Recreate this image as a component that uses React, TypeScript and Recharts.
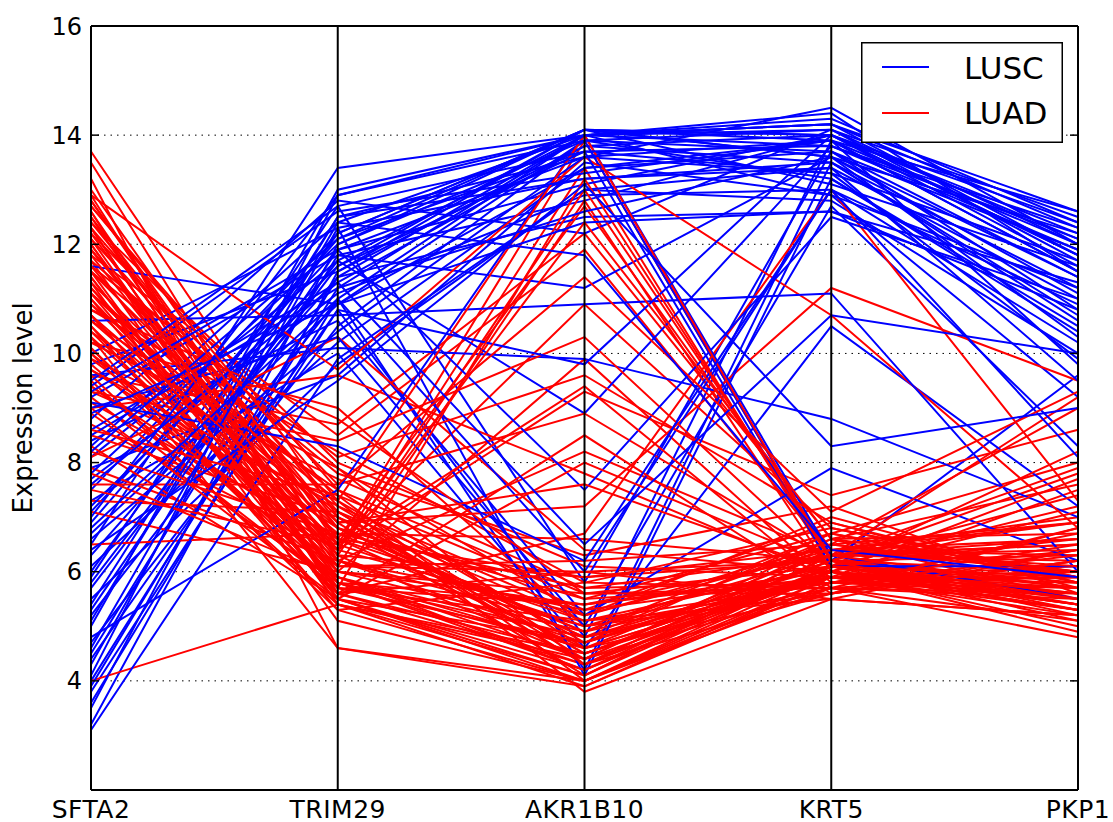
import React from 'react';
import { LineChart, Line, XAxis, YAxis, CartesianGrid, ReferenceLine, Legend } from 'recharts';

const FONT = "'DejaVu Sans', sans-serif";

const genes = ['SFTA2', 'TRIM29', 'AKR1B10', 'KRT5', 'PKP1'];
const geneIndex = [0, 1, 2, 3, 4];
const yTicks = [4, 6, 8, 10, 12, 14, 16];
const yDomain = [2, 16];
const classNames = ['LUSC', 'LUAD'];
const classColors = ['#0000ff', '#ff0000'];

// LUSC samples (blue)
const luscSFTA2 = [3.2,3.5,3.8,4.0,4.3,4.5,4.7,5.0,5.2,5.4, 5.5,5.7,5.9,6.1,6.3,6.5,6.7,6.9,7.1,7.3, 7.5,7.7,7.9,8.1,8.3,8.4,8.6,8.8,9.0,9.2, 9.4,9.6,9.8,10.0,10.6,11.6,3.1,3.6,4.1,4.8, 5.3,6.0,6.6,7.2,7.8,8.5,9.1,9.5,3.9,4.4, 5.1,5.8,6.4,7.0,7.6,8.2,8.9,9.3,4.6,6.8];
const luscTRIM29 = [11.5,12.0,10.8,11.2,12.3,11.8,10.5,13.0,11.0,12.5, 9.8,11.6,12.7,10.2,11.4,13.4,10.9,12.1,11.9,10.0, 12.2,11.1,9.6,11.7,12.4,10.6,11.3,12.8,10.3,11.8, 12.6,10.1,11.5,12.3,10.7,10.9,9.9,11.0,12.9,7.5, 11.9,12.2,10.4,11.6,12.0,11.2,8.3,12.7,11.4,10.8, 12.5,11.7,9.5,12.9,11.3,12.1,10.9,11.9,12.4,11.0];
const luscAKR1B10 = [13.8,14.1,4.8,14.0,13.2,12.8,13.9,14.0,4.2,13.6, 13.0,14.1,5.8,13.4,12.5,14.0,13.9,13.7,13.1,4.6, 14.1,12.9,13.5,8.9,14.0,5.2,13.8,12.2,5.0,11.2, 13.3,9.9,14.1,4.1,10.9,13.4,13.0,6.0,14.0,14.0, 7.5,14.1,13.6,13.7,13.9,12.6,6.2,13.7,14.0,9.8, 13.2,14.0,13.1,13.9,6.5,14.1,12.4,13.6,11.8,14.0];
const luscKRT5 = [14.0,13.6,13.9,14.2,13.4,14.0,13.2,13.8,13.5,14.5, 12.8,13.1,13.7,13.9,12.6,14.1,6.2,13.3,14.0,10.5, 13.6,13.0,12.9,13.8,14.2,7.9,13.5,14.1,12.7,13.6, 13.9,8.8,14.0,13.2,11.1,13.7,13.4,13.0,14.3,6.3, 12.5,13.9,13.3,6.1,14.1,13.6,13.0,13.8,12.9,14.0, 13.5,14.2,8.3,13.7,10.7,14.0,12.6,13.9,6.4,14.4];
const luscPKP1 = [11.8,12.2,11.5,12.6,11.0,12.4,10.5,11.9,11.2,12.0, 10.0,11.6,10.8,9.8,11.3,12.5,9.6,11.7,12.1,7.2, 11.4,10.9,9.2,12.3,11.8,6.2,10.6,12.0,8.3,11.1, 11.5,7.0,12.2,10.4,6.0,11.9,9.5,10.2,12.4,5.5, 11.0,12.6,9.9,6.1,11.7,10.3,8.1,12.1,11.2,11.6, 10.7,12.3,9.0,11.4,10.0,11.8,10.8,12.0,5.9,11.5];

// LUAD samples (red)
const luadSFTA2 = [13.7,13.5,12.9,12.8,12.7,12.6,12.5,12.4,12.3,12.2, 12.1,12.0,11.9,11.8,11.7,11.6,11.5,11.4,11.3,11.2, 11.1,11.0,10.9,10.8,10.7,10.6,10.5,10.4,10.3,10.2, 10.1,10.0,9.9,9.8,9.7,9.6,9.5,9.4,9.3,9.2, 9.1,9.0,8.9,8.7,8.5,8.3,8.1,7.9,7.6,7.3, 7.1,6.5,4.0,13.2,12.9,12.4,12.0,11.7,11.3,11.0, 10.6,10.3,9.9,9.6,9.3,12.6,12.3,12.1,11.9,11.6, 11.4,11.2,10.9,10.7,10.5,10.2,10.0,12.8,12.5,12.2, 11.8,11.5,11.1,10.8,10.4,10.1,9.7,9.4,9.0,8.6, 8.2,7.8,7.5,13.0,12.7,12.3,11.9,11.5,11.1,10.7];
const luadTRIM29 = [7.0,6.2,5.8,6.5,7.5,5.5,6.8,8.0,5.6,6.1, 7.2,5.9,6.6,8.5,5.4,6.3,7.8,5.7,6.9,6.0, 7.4,5.5,6.4,8.2,5.8,6.7,5.3,7.1,6.2,9.0, 5.6,6.5,7.7,5.9,6.8,8.7,5.4,6.1,7.3,5.7, 6.6,9.6,5.8,6.4,7.0,5.5,10.3,6.2,7.6,7.1, 6.0,6.7,5.4,4.6,9.7,6.9,5.6,7.9,5.1,6.3, 7.5,4.6,6.6,5.3,8.4,6.0,7.1,5.7,6.8,8.1, 5.5,6.5,7.3,5.9,6.1,7.9,5.6,6.3,5.8,7.6, 6.2,5.4,6.9,8.8,6.0,5.7,7.2,6.4,5.5,7.4, 6.7,5.9,6.5,6.6,7.3,5.6,6.4,7.0,5.8,6.8];
const luadAKR1B10 = [4.5,5.0,4.2,13.9,5.6,4.0,4.8,6.1,4.3,12.8, 5.3,4.6,5.9,11.9,3.9,4.4,6.3,5.1,4.1,9.9, 5.5,4.7,13.4,5.8,4.3,6.6,4.0,5.2,8.2,5.0, 4.5,10.9,5.7,4.2,4.9,12.2,4.4,6.0,3.8,5.4, 4.6,7.8,4.8,9.3,5.1,4.1,6.4,4.7,8.9,4.3, 5.6,4.9,4.5,4.0,13.6,7.2,6.7,5.2,4.0,13.0, 4.6,3.9,12.7,5.8,10.3,5.4,4.4,4.7,5.5,9.6, 4.2,5.0,14.0,4.8,6.2,4.3,8.5,5.9,4.6,11.4, 5.3,4.1,7.6,5.6,4.9,13.2,4.5,5.2,8.0,4.0, 5.7,4.4,9.4,5.1,4.7,6.0,12.4,4.3,5.4,4.8];
const luadKRT5 = [6.0,5.8,6.3,6.2,5.7,6.1,6.6,5.9,6.4,6.0, 6.9,5.6,6.2,6.3,5.9,6.5,7.2,5.5,6.1,5.8, 6.7,6.0,6.1,5.7,6.4,6.2,5.9,7.0,6.3,5.6, 6.0,6.8,5.8,6.1,6.5,6.6,5.7,6.2,5.5,6.0, 6.4,5.9,6.1,7.4,5.8,6.3,6.0,6.7,6.2,5.6, 6.1,5.9,6.2,6.0,10.7,11.2,13.0,6.5,5.7,6.3, 6.0,5.8,6.4,6.8,6.1,5.9,6.6,6.2,5.8,6.9, 6.0,6.3,6.2,5.7,6.5,6.1,5.6,6.4,6.0,7.1, 5.9,6.3,6.0,5.6,6.7,6.2,5.9,6.4,6.1,5.8, 6.3,6.0,5.7,6.1,6.2,5.5,6.6,6.0,6.3,5.9];
const luadPKP1 = [5.6,5.9,6.5,5.3,6.0,7.2,5.5,5.8,6.3,5.0, 5.7,6.8,5.4,6.2,7.5,6.0,5.6,5.2,6.6,5.9, 8.0,5.3,6.1,5.5,7.0,5.7,6.4,5.8,9.2,6.2, 5.4,5.9,6.7,5.1,6.0,7.6,5.6,6.3,5.2,4.9, 6.9,6.1,5.5,8.6,5.7,6.5,5.3,5.9,7.8,6.2, 5.6,6.0,5.8,5.4,6.8,9.5,7.3,9.0,5.1,6.4, 7.7,5.6,6.6,5.9,8.2,5.2,6.7,5.5,6.3,5.8, 7.1,5.7,6.0,4.8,6.9,5.6,6.4,6.1,5.4,9.3, 5.9,6.6,5.3,6.2,5.8,7.4,5.7,6.0,5.4,6.5, 7.9,5.5,6.8,5.9,5.2,6.4,6.0,5.7,6.9,5.3];

const luscByGene = [luscSFTA2, luscTRIM29, luscAKR1B10, luscKRT5, luscPKP1];
const luadByGene = [luadSFTA2, luadTRIM29, luadAKR1B10, luadKRT5, luadPKP1];

const data = genes.map((g, gi) => {
  const row: Record<string, number | string> = { idx: geneIndex[gi], gene: g };
  luscByGene[gi].forEach((v, i) => { row[`c${i}`] = v; });
  luadByGene[gi].forEach((v, j) => { row[`d${j}`] = v; });
  return row;
});

type Series = { key: string; color: string; pos: number };
const series: Series[] = (() => {
  const items: Series[] = [];
  luscSFTA2.forEach((_, i) => items.push({ key: `c${i}`, color: classColors[0], pos: (i + 0.5) / luscSFTA2.length }));
  luadSFTA2.forEach((_, j) => items.push({ key: `d${j}`, color: classColors[1], pos: (j + 0.3) / luadSFTA2.length }));
  items.sort((a, b) => a.pos - b.pos);
  return items;
})();

const LeftTick = (props: any) => {
  const { x, y, payload } = props;
  return (
    <g>
      <text x={x} y={y} dy="0.355em" textAnchor="end" fontSize={24} fill="#000" fontFamily={FONT}>
        {payload.value}
      </text>
      <line x1={x + 9} x2={x + 17} y1={y} y2={y} stroke="#000" strokeWidth={1.5} />
    </g>
  );
};

const RightTick = (props: any) => {
  const { x, y } = props;
  return <line x1={x - 8} x2={x} y1={y} y2={y} stroke="#000" strokeWidth={1.5} />;
};

const YLabel = (props: any) => {
  const vb = props.viewBox || { y: 26, height: 764 };
  const cy = vb.y + vb.height / 2;
  return (
    <text x={32} y={cy} transform={`rotate(-90, 32, ${cy})`} textAnchor="middle" fontSize={26} fill="#000" fontFamily={FONT}>
      Expression level
    </text>
  );
};

const renderLegend = () => (
  <svg width={202} height={101} style={{ display: 'block' }}>
    <rect x={0.75} y={0.75} width={200.5} height={99.5} fill="#fff" stroke="#000" strokeWidth={1.5} />
    {classNames.map((n, i) => (
      <g key={n}>
        <line x1={21} x2={68} y1={25 + i * 46} y2={25 + i * 46} stroke={classColors[i]} strokeWidth={2} />
        <text x={103} y={37 + i * 45} fontSize={31} fill="#000" fontFamily={FONT}>{n}</text>
      </g>
    ))}
  </svg>
);

export default function App() {
  return (
    <div>
      <style>{`body{margin:0;}`}</style>
      <LineChart
        width={1113}
        height={822}
        data={data}
        margin={{ top: 26, right: 34, bottom: 0, left: 0 }}
        style={{ fontFamily: FONT }}
      >
        <CartesianGrid horizontal vertical={false} stroke="#000" strokeDasharray="1.5 5" strokeWidth={1} />
        <XAxis
          dataKey="idx"
          type="number"
          domain={[0, 4]}
          ticks={geneIndex}
          interval={0}
          tickFormatter={(v: number) => genes[v]}
          tickLine={false}
          axisLine={false}
          tickSize={0}
          tickMargin={10}
          height={32}
          tick={{ fontSize: 25, fill: '#000', fontFamily: FONT, letterSpacing: 0.5 }}
        />
        <YAxis
          type="number"
          domain={yDomain}
          ticks={yTicks}
          interval={0}
          allowDataOverflow
          tickLine={false}
          axisLine={false}
          tickSize={0}
          tickMargin={9}
          width={91}
          tick={<LeftTick />}
          label={<YLabel />}
        />
        <YAxis
          yAxisId="r"
          orientation="right"
          type="number"
          domain={yDomain}
          ticks={yTicks}
          interval={0}
          allowDataOverflow
          tickLine={false}
          axisLine={false}
          tickSize={0}
          tickMargin={0}
          width={1}
          tick={<RightTick />}
        />
        {series.map((s) => (
          <Line
            key={s.key}
            dataKey={s.key}
            stroke={s.color}
            strokeWidth={2}
            dot={false}
            activeDot={false}
            isAnimationActive={false}
            legendType="none"
          />
        ))}
        {geneIndex.map((i) => (
          <ReferenceLine key={`v${i}`} x={i} stroke="#000" strokeWidth={2} />
        ))}
        <ReferenceLine y={yDomain[0]} stroke="#000" strokeWidth={2} />
        <ReferenceLine y={yDomain[1]} stroke="#000" strokeWidth={2} />
        <Legend
          layout="horizontal"
          verticalAlign="middle"
          align="center"
          content={renderLegend}
          wrapperStyle={{ left: 861, top: 42, width: 202, height: 101 }}
        />
      </LineChart>
    </div>
  );
}
